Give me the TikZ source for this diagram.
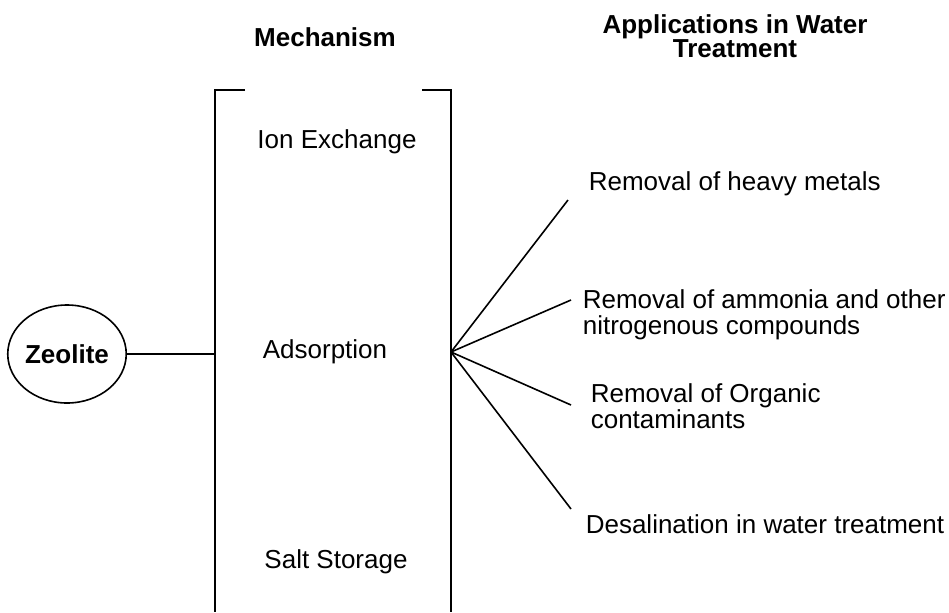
\documentclass[tikz,border=0pt]{standalone}
\usepackage{fontspec}
\setmainfont{Liberation Sans}
\usetikzlibrary{shapes.geometric}

\begin{document}
\begin{tikzpicture}[x=0.5pt,y=-0.5pt,
			line width=0.8pt,
			every node/.style={
				inner sep=0pt,
				font=\fontsize{13}{13}\selectfont
			},
			head/.style={
				align=center,
				font=\fontsize{13}{12}\selectfont\bfseries
			},
			app/.style={
				anchor=west,
				align=left
			}]
			
			\useasboundingbox(0,0)rectangle(949,612);
			
			\node(zeo)[draw,ellipse,minimum width=55pt,minimum height=49pt,font=\fontsize{13}{13}\selectfont\bfseries] at (67,354){Zeolite};
			
			\node(mech)[head] at (325,37){Mechanism};
			
			\node(apps)[head] at (735,36){Applications in Water\\Treatment};
			
			\coordinate(join) at (215,354);
			
			\coordinate(fan) at (451,352);
			
			\draw(245,90)--(215,90)--(215,612);
			
			\draw(422,90)--(451,90)--(451,612);
			
			\node(ion) at (337,142){Ion Exchange};
			
			\node(ads) at (325,352){Adsorption};
			
			\node(salt) at (336,562){Salt Storage};
			
			\coordinate(e1) at (568,200);
			
			\coordinate(e2) at (571,300);
			
			\coordinate(e3) at (571,405);
			
			\coordinate(e4) at (571,509);
			
			\node(metal)[app] at (588,184){Removal of heavy metals};
			
			\node(ammo)[app] at (582,315){Removal of ammonia and other\\nitrogenous compounds};
			
			\node(org)[app] at (590,406){Removal of Organic\\contaminants};
			
			\node(desal)[app] at (585,524){Desalination in water treatment};
			
			\draw(zeo)--(join);
			
			\draw(fan)--(e1);
			
			\draw(fan)--(e2);
			
			\draw(fan)--(e3);
			
			\draw(fan)--(e4);
			
		\end{tikzpicture}
\end{document}
